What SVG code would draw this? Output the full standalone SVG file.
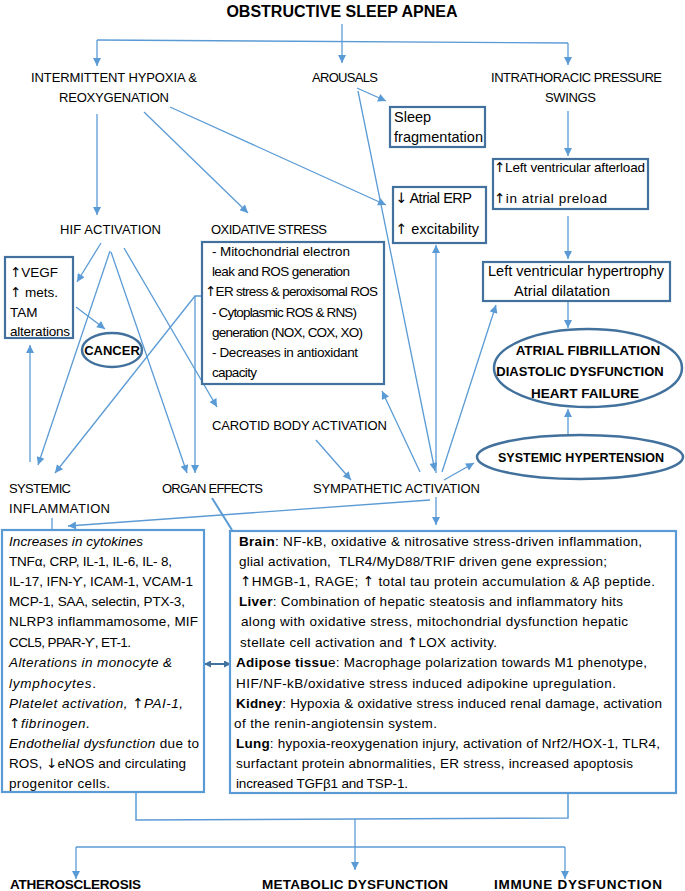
<svg xmlns="http://www.w3.org/2000/svg" width="685" height="891" viewBox="0 0 685 891">
<style>
text{font-family:"Liberation Sans",Arial,sans-serif;fill:#000}
.lab{font-size:13px}
.bold{font-weight:bold}
.bx{font-size:13.5px}
.ar{font-family:"DejaVu Sans",sans-serif}
.box{fill:#fff;stroke:#41719C;stroke-width:2.2}
.bbox{fill:#fff;stroke:#5B9BD5;stroke-width:2.2}
.ell{fill:#fff;stroke:#41719C;stroke-width:2.5}
.c{fill:none;stroke:#5B9BD5;stroke-width:1.3}
.a{marker-end:url(#ah)}
</style>
<defs>
<marker id="ah" viewBox="0 0 10 10" refX="10" refY="5" markerUnits="userSpaceOnUse" markerWidth="10" markerHeight="8" orient="auto-start-reverse"><path d="M0,0 L10,5 L0,10 z" fill="#5B9BD5"/></marker>
<marker id="ah2" viewBox="0 0 10 10" refX="10" refY="5" markerUnits="userSpaceOnUse" markerWidth="7" markerHeight="7" orient="auto-start-reverse"><path d="M0,0 L10,5 L0,10 z" fill="#41719C"/></marker>
</defs>

<g id="connectors">
<path class="c a" d="M342,24 V63"/>
<path class="c" d="M97,40 L568,43"/>
<path class="c a" d="M97,40 V66"/>
<path class="c a" d="M568,43 V65"/>
<path class="c a" d="M357,88 L386,101"/>
<path class="c a" d="M358,91 L435,471"/>
<path class="c a" d="M97,114 V215"/>
<path class="c a" d="M144,112 L248,213"/>
<path class="c a" d="M170,107 L386,205"/>
<path class="c a" d="M568,111 V156"/>
<path class="c a" d="M568,216 V259"/>
<path class="c a" d="M568,302 V328"/>
<path class="c a" d="M568,434 V409"/>
<path class="c a" d="M101,243 L77,282"/>
<path class="c a" d="M110,251 L38,465"/>
<path class="c a" d="M111,252 L187,473"/>
<path class="c a" d="M124,248 L217,407"/>
<path class="c a" d="M76,307 L105,329"/>
<path class="c a" d="M30,462 V345"/>
<path class="c a" d="M202,296 H195 V473"/>
<path class="c a" d="M195,296 L55,473"/>
<path class="c a" d="M316,440 L351,480"/>
<path class="c a" d="M420,472 L382,391"/>
<path class="c a" d="M436,473 V245"/>
<path class="c a" d="M442,472 L496,305"/>
<path class="c a" d="M444,480 L474,463"/>
<path class="c a" d="M436,497 V525"/>
<path class="c a" d="M430,500 L68,526"/>
<path class="c" d="M52,518 V530"/>
<path class="c" style="stroke-width:2" d="M212,498 L232,530"/>
<path fill="none" stroke="#41719C" stroke-width="2" marker-start="url(#ah2)" marker-end="url(#ah2)" d="M204,664 H231"/>
<path class="c" style="stroke-width:1.5" d="M136,793 V820 L568,818 V793"/>
<path class="c a" d="M355,819 V870"/>
<path class="c" d="M76,847 H565"/>
<path class="c a" d="M76,847 V879"/>
<path class="c a" d="M565,847 V879"/>
</g>

<g id="osa"><text x="342" y="17" text-anchor="middle" class="bold" font-size="16">OBSTRUCTIVE SLEEP APNEA</text></g>
<g id="ih"><text class="lab" x="31" y="81.5" textLength="166">INTERMITTENT HYPOXIA &amp;</text><text class="lab" x="59" y="101.5" textLength="110">REOXYGENATION</text></g>
<g id="arousals"><text class="lab" x="312" y="81.5" textLength="66">AROUSALS</text></g>
<g id="itp"><text class="lab" x="491" y="81.5" textLength="171">INTRATHORACIC PRESSURE</text><text class="lab" x="545" y="101.5" textLength="51">SWINGS</text></g>

<g id="sleep"><rect class="box" x="390" y="107" width="95" height="40"/><text x="394" y="122" font-size="14.5">Sleep</text><text x="394" y="142" font-size="14.5" textLength="89">fragmentation</text></g>
<g id="erp"><rect class="box" x="393" y="187" width="93" height="56"/><text x="395" y="203" font-size="14.5" textLength="77"><tspan class="ar">↓</tspan> Atrial ERP</text><text x="395" y="234" font-size="14.5" textLength="84"><tspan class="ar">↑</tspan> excitability</text></g>
<g id="lva"><rect class="box" x="493" y="159" width="155" height="50"/><text x="494" y="171.5" font-size="13.5" textLength="151"><tspan class="ar">↑</tspan>Left ventricular afterload</text><text x="494" y="202.5" font-size="13.5" textLength="113"><tspan class="ar">↑</tspan>in atrial preload</text></g>
<g id="lvh"><rect class="box" x="483" y="262" width="187" height="39"/><text x="488" y="276" font-size="14.5" textLength="176">Left ventricular hypertrophy</text><text x="514" y="296" font-size="14.5" textLength="96">Atrial dilatation</text></g>
<g id="af"><ellipse class="ell" cx="588" cy="368" rx="94" ry="39"/><text class="bold" x="588" y="355" font-size="13.5" text-anchor="middle">ATRIAL FIBRILLATION</text><text class="bold" x="580" y="376" font-size="13" text-anchor="middle">DIASTOLIC DYSFUNCTION</text><text class="bold" x="585" y="398" font-size="13.5" text-anchor="middle">HEART FAILURE</text></g>
<g id="sh"><ellipse class="ell" cx="580" cy="457" rx="103" ry="22"/><text class="bold" x="581" y="461.5" font-size="12.5" text-anchor="middle">SYSTEMIC HYPERTENSION</text></g>

<g id="hif"><text class="lab" x="60" y="233.5" textLength="101">HIF ACTIVATION</text></g>
<g id="ox"><text class="lab" x="211" y="233.5" textLength="116">OXIDATIVE STRESS</text></g>
<g id="oxbox"><rect class="box" x="202" y="242" width="182" height="142"/>
<text class="bx" x="212" y="255.5" textLength="138">- Mitochondrial electron</text>
<text class="bx" x="212" y="275.5" textLength="138">leak and ROS generation</text>
<text class="bx" x="205" y="295.5" textLength="173"><tspan class="ar">↑</tspan>ER stress &amp; peroxisomal ROS</text>
<text class="bx" x="212" y="316.5" textLength="145">- Cytoplasmic ROS &amp; RNS)</text>
<text class="bx" x="212" y="336.5" textLength="151">generation (NOX, COX, XO)</text>
<text class="bx" x="212" y="356.5" textLength="146">- Decreases in antioxidant</text>
<text class="bx" x="212" y="376.5" textLength="45">capacity</text></g>
<g id="vegf"><rect class="box" x="5" y="257" width="68" height="81"/>
<text class="bx" x="10" y="276.5"><tspan class="ar">↑</tspan>VEGF</text><text class="bx" x="10" y="296.5"><tspan class="ar">↑</tspan> mets.</text><text class="bx" x="10" y="316.5">TAM</text><text class="bx" x="10" y="335.5" textLength="60">alterations</text></g>
<g id="cancer"><ellipse class="ell" cx="112" cy="350" rx="30" ry="17"/><text class="bold" x="112" y="355" font-size="13" text-anchor="middle">CANCER</text></g>
<g id="carotid"><text class="lab" x="212" y="429.5" textLength="175">CAROTID BODY ACTIVATION</text></g>
<g id="sysinf"><text class="lab" x="9" y="492.5" textLength="62">SYSTEMIC</text><text class="lab" x="9" y="512.5" textLength="101">INFLAMMATION</text></g>
<g id="organ"><text class="lab" x="162" y="492.5" textLength="101">ORGAN EFFECTS</text></g>
<g id="symp"><text class="lab" x="313" y="492.5" textLength="167">SYMPATHETIC ACTIVATION</text></g>

<g id="cytokines"><rect class="bbox" x="2" y="530" width="202" height="262"/>
<text class="bx" x="9" y="545.7" font-style="italic" textLength="134">Increases in cytokines</text>
<text class="bx" x="9" y="565.7" textLength="163">TNFα, CRP, IL-1, IL-6, IL- 8,</text>
<text class="bx" x="9" y="585.7" textLength="184">IL-17, IFN-Ƴ, ICAM-1, VCAM-1</text>
<text class="bx" x="9" y="605.7" textLength="176">MCP-1, SAA, selectin, PTX-3,</text>
<text class="bx" x="9" y="626" textLength="189">NLRP3 inflammamosome, MIF</text>
<text class="bx" x="9" y="646.5" textLength="122">CCL5, PPAR-Ƴ, ET-1.</text>
<text class="bx" x="9" y="667" font-style="italic" textLength="163">Alterations in monocyte &amp;</text>
<text class="bx" x="9" y="687.5" textLength="87"><tspan font-style="italic">lymphocytes</tspan>.</text>
<text class="bx" x="9" y="707.5" font-style="italic" textLength="174">Platelet activation, <tspan class="ar" font-style="normal">↑</tspan>PAI-1,</text>
<text class="bx" x="9" y="727.5" font-style="italic" textLength="81"><tspan class="ar" font-style="normal">↑</tspan>fibrinogen.</text>
<text class="bx" x="9" y="747.5" textLength="190"><tspan font-style="italic">Endothelial dysfunction</tspan> due to</text>
<text class="bx" x="9" y="767.5" textLength="177">ROS, <tspan class="ar">↓</tspan>eNOS and circulating</text>
<text class="bx" x="9" y="787.5" textLength="101">progenitor cells.</text></g>

<g id="organs"><rect class="bbox" x="230" y="531" width="446" height="262"/>
<text class="bx" x="239" y="545.7" textLength="403"><tspan font-weight="bold">Brain</tspan>: NF-kB, oxidative &amp; nitrosative stress-driven inflammation,</text>
<text class="bx" x="239" y="565.7" textLength="368" xml:space="preserve">glial activation,  TLR4/MyD88/TRIF driven gene expression;</text>
<text class="bx" x="240" y="585.7" textLength="415"><tspan class="ar">↑</tspan>HMGB-1, RAGE; <tspan class="ar">↑</tspan> total tau protein accumulation &amp; Aβ peptide.</text>
<text class="bx" x="239" y="605.7" textLength="384"><tspan font-weight="bold">Liver</tspan>: Combination of hepatic steatosis and inflammatory hits</text>
<text class="bx" x="241" y="626" textLength="387">along with oxidative stress, mitochondrial dysfunction hepatic</text>
<text class="bx" x="240" y="646.5" textLength="257">stellate cell activation and <tspan class="ar">↑</tspan>LOX activity.</text>
<text class="bx" x="236" y="667" textLength="411"><tspan font-weight="bold">Adipose tissu</tspan>e: Macrophage polarization towards M1 phenotype,</text>
<text class="bx" x="236" y="687.5" textLength="380">HIF/NF-kB/oxidative stress induced adipokine upregulation.</text>
<text class="bx" x="236" y="707.5" textLength="426"><tspan font-weight="bold">Kidney</tspan>: Hypoxia &amp; oxidative stress induced renal damage, activation</text>
<text class="bx" x="234" y="727.5" textLength="203">of the renin-angiotensin system.</text>
<text class="bx" x="236" y="747.5" textLength="424"><tspan font-weight="bold">Lung</tspan>: hypoxia-reoxygenation injury, activation of Nrf2/HOX-1, TLR4,</text>
<text class="bx" x="236" y="767.5" textLength="397">surfactant protein abnormalities, ER stress, increased apoptosis</text>
<text class="bx" x="236" y="787.5" textLength="172">increased TGFβ1 and TSP-1.</text></g>

<g id="athero"><text class="bold" x="10" y="889" font-size="13.5" textLength="131">ATHEROSCLEROSIS</text></g>
<g id="metab"><text class="bold" x="262" y="889" font-size="13.5" textLength="186">METABOLIC DYSFUNCTION</text></g>
<g id="immune"><text class="bold" x="494" y="889" font-size="13.5" textLength="168">IMMUNE DYSFUNCTION</text></g>
</svg>
